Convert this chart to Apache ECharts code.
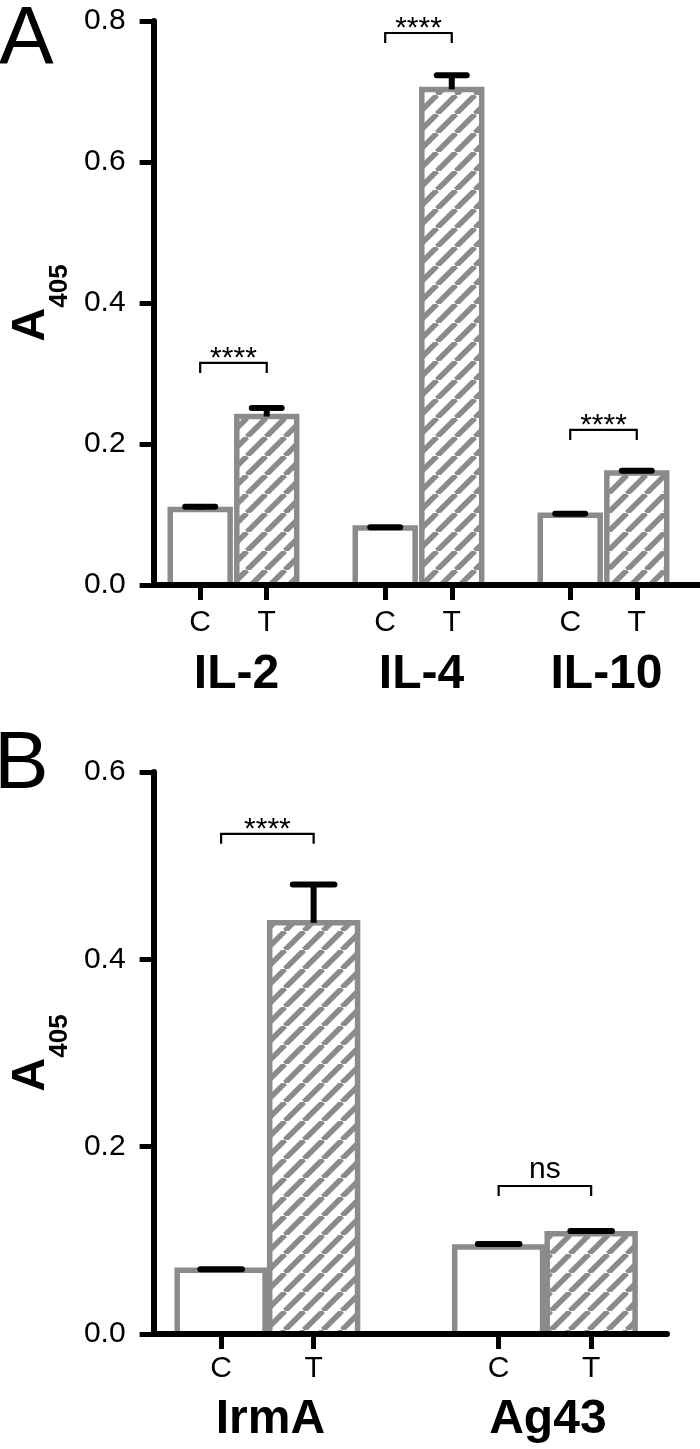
<!DOCTYPE html>
<html><head><meta charset="utf-8">
<script src="https://cdn.jsdelivr.net/npm/echarts@6/dist/echarts.min.js"></script>
<style>html,body{margin:0;padding:0;background:#fff}#c{width:700px;height:1449px}</style>
</head><body><div id="c"></div>
<script>
// ---------------- data ----------------
const conditions = ['C', 'T'];

const groupsA = ['IL-2', 'IL-4', 'IL-10'];
const meanA_C = [0.107, 0.081, 0.099];
const errA_C  = [0.004, 0.001, 0.002];
const meanA_T = [0.239, 0.703, 0.159];
const errA_T  = [0.012, 0.020, 0.003];
const sigA    = ['****', '****', '****'];
const bracketA = [0.315, 0.783, 0.220];
const yTicksA = [0, 0.2, 0.4, 0.6, 0.8];

const groupsB = ['IrmA', 'Ag43'];
const meanB_C = [0.068, 0.093];
const errB_C  = [0.001, 0.003];
const meanB_T = [0.439, 0.107];
const errB_T  = [0.041, 0.003];
const sigB    = ['****', 'ns'];
const bracketB = [0.534, 0.158];
const yTicksB = [0, 0.2, 0.4, 0.6];

// ---------------- layout / style ----------------
const FONT = '"Liberation Sans", Arial, Helvetica, sans-serif';
const GRAY = '#8b8b8b';
const layoutA = {step: 2.78, xMin: -0.70, xMax: 7.51, yMax: 0.8,
  grid: {left: 146, top: 21, width: 554, height: 564}, labelMargin: 23, groupOffset: 90, barW: 0.9, nameGap: 80};
const layoutB = {step: 3, xMin: -0.73, xMax: 4.82, yMax: 0.6,
  grid: {left: 146, top: 772, width: 521, height: 562}, labelMargin: 20, groupOffset: 86, barW: 0.95, nameGap: 80};

function makeHatch() {
  const s = 19, c = document.createElement('canvas');
  c.width = c.height = s;
  const x = c.getContext('2d');
  x.fillStyle = '#fff'; x.fillRect(0, 0, s, s);
  x.strokeStyle = GRAY; x.lineWidth = 5.5;
  x.beginPath();
  for (const o of [-s, 0, s]) { x.moveTo(o, s); x.lineTo(o + s, 0); }
  x.stroke();
  return c;
}
const hatch = {image: makeHatch(), repeat: 'repeat'};

const grids = [], xAxes = [], yAxes = [], series = [];

function buildPanel(idx, L, groups, meanC, errC, meanT, errT, sig, bracket, yTicks) {
  const pos = (i, k) => i * L.step + k;
  const barData = [], tickVals = [];
  groups.forEach((g, i) => {
    barData.push([pos(i, 0), meanC[i], errC[i], 0]);
    barData.push([pos(i, 1), meanT[i], errT[i], 1]);
    tickVals.push(pos(i, 0), pos(i, 1));
  });
  const brData = groups.map((g, i) => [pos(i, 0), pos(i, 1), bracket[i]]);
  const grpData = groups.map((g, i) => [(pos(i, 0) + pos(i, 1)) / 2, 0]);
  const labelFor = v => {
    let best = 0;
    tickVals.forEach((t, j) => { if (Math.abs(t - v) < Math.abs(tickVals[best] - v)) best = j; });
    return conditions[best % 2];
  };

  grids.push(Object.assign({containLabel: false}, L.grid));
  xAxes.push({
    gridIndex: idx, type: 'value', min: L.xMin, max: L.xMax, z: 3,
    axisLine: {show: true, onZero: false, lineStyle: {color: '#000', width: 6}},
    axisTick: {show: true, customValues: tickVals, length: 15, lineStyle: {color: '#000', width: 5}},
    axisLabel: {show: true, customValues: tickVals, margin: L.labelMargin, fontSize: 30, color: '#000',
      fontFamily: FONT, formatter: labelFor},
    splitLine: {show: false}
  });
  yAxes.push({
    gridIndex: idx, type: 'value', min: 0, max: L.yMax, z: 3,
    axisLine: {show: true, onZero: false, lineStyle: {color: '#000', width: 6}},
    axisTick: {show: true, customValues: yTicks, length: 14, lineStyle: {color: '#000', width: 5}},
    axisLabel: {show: true, customValues: yTicks, margin: 28, fontSize: 30, color: '#000', fontFamily: FONT,
      formatter: v => v.toFixed(1)},
    splitLine: {show: false},
    name: '{a|A}{s|405}', nameLocation: 'middle', nameRotate: 90, nameGap: L.nameGap,
    nameTextStyle: {rich: {
      a: {fontSize: 47, fontWeight: 'bold', fontFamily: FONT, color: '#000', lineHeight: 47, verticalAlign: 'top'},
      s: {fontSize: 26, fontWeight: 'bold', fontFamily: FONT, color: '#000', lineHeight: 26, verticalAlign: 'top', padding: [39, 0, 0, 0]}
    }}
  });

  // bars
  series.push({
    type: 'custom', xAxisIndex: idx, yAxisIndex: idx, z: 2, silent: true, data: barData,
    renderItem: (params, api) => {
      const x = api.value(0), y = api.value(1), k = api.value(3);
      const top = api.coord([x, y]), base = api.coord([x, 0]);
      const w = api.size([1, 0])[0] * L.barW;
      return {type: 'rect', shape: {x: top[0] - w / 2, y: top[1], width: w, height: base[1] - top[1]},
        style: {fill: k ? hatch : '#fff', stroke: GRAY, lineWidth: 5.5}};
    }
  });
  // error bars
  series.push({
    type: 'custom', xAxisIndex: idx, yAxisIndex: idx, z: 5, silent: true, data: barData,
    renderItem: (params, api) => {
      const x = api.value(0), y = api.value(1), e = api.value(2);
      const top = api.coord([x, y]), et = api.coord([x, y + e]);
      const hw = api.size([1, 0])[0] * 0.225;
      return {type: 'group', children: [
        {type: 'line', shape: {x1: top[0], y1: top[1], x2: et[0], y2: et[1]}, style: {stroke: '#000', lineWidth: 6}},
        {type: 'line', shape: {x1: et[0] - hw, y1: et[1], x2: et[0] + hw, y2: et[1]}, style: {stroke: '#000', lineWidth: 6, lineCap: 'round'}}
      ]};
    }
  });
  // significance brackets
  series.push({
    type: 'custom', xAxisIndex: idx, yAxisIndex: idx, z: 5, silent: true, data: brData,
    renderItem: (params, api) => {
      const p0 = api.coord([api.value(0), api.value(2)]), p1 = api.coord([api.value(1), api.value(2)]);
      const t = sig[params.dataIndex];
      const star = t.indexOf('*') >= 0;
      return {type: 'group', children: [
        {type: 'polyline', shape: {points: [[p0[0], p0[1] + 10], [p0[0], p0[1]], [p1[0], p1[1]], [p1[0], p1[1] + 10]]},
          style: {stroke: '#000', lineWidth: 2.2, fill: null}},
        {type: 'text', x: (p0[0] + p1[0]) / 2, y: p0[1] - (star ? 4 : 16),
          style: {text: t, fontSize: 30, fontFamily: FONT, fill: '#000', align: 'center', verticalAlign: 'middle'}}
      ]};
    }
  });
  // group labels
  series.push({
    type: 'custom', xAxisIndex: idx, yAxisIndex: idx, z: 5, silent: true, clip: false, data: grpData,
    renderItem: (params, api) => {
      const p = api.coord([api.value(0), 0]);
      return {type: 'text', x: p[0] + 3, y: p[1] + L.groupOffset,
        style: {text: groups[params.dataIndex], fontSize: 48, fontWeight: 'bold', fontFamily: FONT, fill: '#000',
          align: 'center', verticalAlign: 'middle'}};
    }
  });
}

buildPanel(0, layoutA, groupsA, meanA_C, errA_C, meanA_T, errA_T, sigA, bracketA, yTicksA);
buildPanel(1, layoutB, groupsB, meanB_C, errB_C, meanB_T, errB_T, sigB, bracketB, yTicksB);

const chart = echarts.init(document.getElementById('c'), null, {renderer: 'canvas'});
chart.setOption({
  animation: false,
  backgroundColor: '#fff',
  textStyle: {fontFamily: FONT},
  grid: grids, xAxis: xAxes, yAxis: yAxes, series: series,
  graphic: [
    {type: 'text', left: -1, top: -1, style: {text: 'A', fontSize: 82, fontFamily: FONT, fill: '#000'}},
    {type: 'text', left: -6, top: 724, style: {text: 'B', fontSize: 82, fontFamily: FONT, fill: '#000'}}
  ]
});
</script></body></html>
